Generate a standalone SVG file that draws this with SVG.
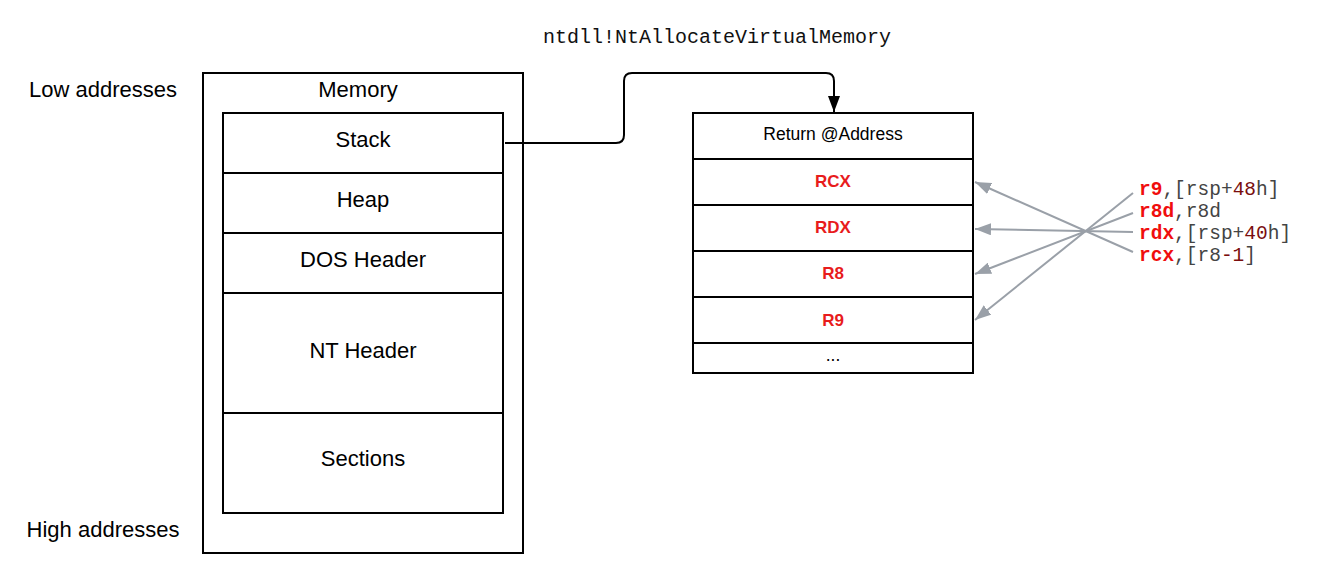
<svg xmlns="http://www.w3.org/2000/svg" width="1324" height="572" viewBox="0 0 1324 572">
<style>
.box{fill:#fff;stroke:#000;stroke-width:2}
.t{font-family:"Liberation Sans",Arial,sans-serif;font-size:22px;fill:#000;text-anchor:middle}
.s{font-family:"Liberation Sans",Arial,sans-serif;font-size:17.5px;fill:#000;text-anchor:middle}
.reg{font-family:"Liberation Sans",Arial,sans-serif;font-size:17px;font-weight:bold;fill:#e81c1c;text-anchor:middle}
.mono{font-family:"Liberation Mono","Courier New",monospace;font-size:19.5px;fill:#444}
.rb{font-weight:bold;fill:#f00d0d}
.num{fill:#7a0d0d}
.g{stroke:#9aa0a8;stroke-width:2;fill:none}
</style>
<defs>
<marker id="ga" viewBox="0 0 16 12" refX="16" refY="6" markerWidth="16" markerHeight="12" markerUnits="userSpaceOnUse" orient="auto">
<path d="M0,0 L16,6 L0,12 Z" fill="#9aa0a8"/>
</marker>
<marker id="ba" viewBox="0 0 12 16" refX="6" refY="16" markerWidth="12" markerHeight="16" markerUnits="userSpaceOnUse" orient="0">
<path d="M0,0 L12,0 L6,16 Z" fill="#000"/>
</marker>
</defs>
<text class="t" x="103" y="97">Low addresses</text>
<text class="t" x="103" y="537">High addresses</text>
<text class="mono" x="717" y="43" style="fill:#111;font-size:20px" text-anchor="middle">ntdll!NtAllocateVirtualMemory</text>
<g id="memory">
<rect class="box" x="203" y="73" width="320" height="480"/>
<text class="t" x="358" y="97">Memory</text>
</g>
<g id="stack"><rect class="box" x="223" y="113" width="280" height="60"/><text class="t" x="363" y="147">Stack</text></g>
<g id="heap"><rect class="box" x="223" y="173" width="280" height="60"/><text class="t" x="363" y="207">Heap</text></g>
<g id="dos"><rect class="box" x="223" y="233" width="280" height="60"/><text class="t" x="363" y="267">DOS Header</text></g>
<g id="nt"><rect class="box" x="223" y="293" width="280" height="120"/><text class="t" x="363" y="358">NT Header</text></g>
<g id="sections"><rect class="box" x="223" y="413" width="280" height="100"/><text class="t" x="363" y="466">Sections</text></g>
<g id="ret"><rect class="box" x="693" y="113" width="280" height="46"/><text class="s" x="833" y="140">Return @Address</text></g>
<g id="rcx"><rect class="box" x="693" y="159" width="280" height="46"/><text class="reg" x="833" y="187">RCX</text></g>
<g id="rdx"><rect class="box" x="693" y="205" width="280" height="46"/><text class="reg" x="833" y="233">RDX</text></g>
<g id="r8"><rect class="box" x="693" y="251" width="280" height="46"/><text class="reg" x="833" y="279">R8</text></g>
<g id="r9"><rect class="box" x="693" y="297" width="280" height="46"/><text class="reg" x="833" y="326">R9</text></g>
<g id="more"><rect class="box" x="693" y="343" width="280" height="30"/><text class="s" x="833" y="361">...</text></g>
<g id="args">
<text class="mono" x="1139" y="195"><tspan class="rb">r9</tspan>,[rsp+<tspan class="num">48</tspan>h]</text>
<text class="mono" x="1139" y="217"><tspan class="rb">r8d</tspan>,r8d</text>
<text class="mono" x="1139" y="239"><tspan class="rb">rdx</tspan>,[rsp+<tspan class="num">40</tspan>h]</text>
<text class="mono" x="1139" y="261"><tspan class="rb">rcx</tspan>,[r8<tspan class="num">-1</tspan>]</text>
</g>
<g id="connectors">
<path d="M505,143 H616 Q624,143 624,135 V81 Q624,73 632,73 H826 Q834,73 834,81 V112" fill="none" stroke="#000" stroke-width="2" marker-end="url(#ba)"/>
<line class="g" x1="1133" y1="193" x2="975" y2="320" marker-end="url(#ga)"/>
<line class="g" x1="1133" y1="213" x2="975" y2="274" marker-end="url(#ga)"/>
<line class="g" x1="1133" y1="232" x2="975" y2="229" marker-end="url(#ga)"/>
<line class="g" x1="1133" y1="252" x2="975" y2="182" marker-end="url(#ga)"/>
</g>
</svg>
